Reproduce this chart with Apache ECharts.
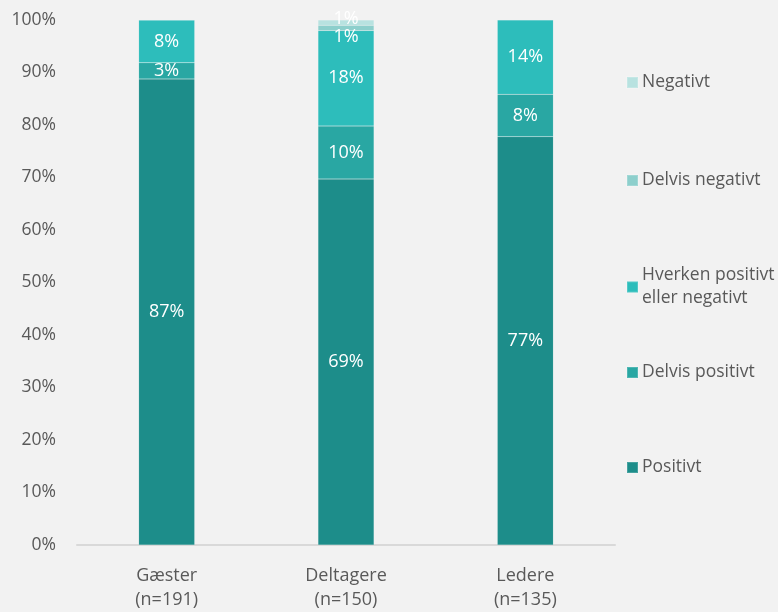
<!DOCTYPE html>
<html>
<head>
<meta charset="utf-8">
<script src="https://cdn.jsdelivr.net/npm/echarts@6/dist/echarts.min.js"></script>
<style>
  html, body { margin: 0; padding: 0; background: #f2f2f2; }
  #chart { width: 778px; height: 612px; }
</style>
</head>
<body>
<div id="chart"></div>
<script>
const categories = ["Gæster\n(n=191)", "Deltagere\n(n=150)", "Ledere\n(n=135)"];
const positivt = [87, 69, 77];
const delvisPositivt = [3, 10, 8];
const hverken = [8, 18, 14];
const delvisNegativt = [0, 1, 0];
const negativt = [0, 1, 0];
const yTicks = [0, 10, 20, 30, 40, 50, 60, 70, 80, 90, 100];

const seriesDefs = [
  { name: "Positivt", data: positivt, color: "#1d8d8a" },
  { name: "Delvis positivt", data: delvisPositivt, color: "#29a7a3" },
  { name: "Hverken positivt eller negativt", data: hverken, color: "#2dbdbb" },
  { name: "Delvis negativt", data: delvisNegativt, color: "#8dcfcc" },
  { name: "Negativt", data: negativt, color: "#b8e2e0" }
];

// 100% stacked: normalise each column
const totals = categories.map((c, i) =>
  seriesDefs.reduce((s, d) => s + d.data[i], 0)
);

const labelOffsets = {
  "Delvis negativt": [0, 9],
  "Negativt": [0, -4]
};

let mychart = echarts.init(document.getElementById("chart"));

const legendTops = {
  "Negativt": 66,
  "Delvis negativt": 164,
  "Hverken positivt eller negativt": 259,
  "Delvis positivt": 356,
  "Positivt": 451
};

const option = {
  backgroundColor: "#f2f2f2",
  textStyle: { fontFamily: "'Open Sans', sans-serif" },
  grid: {
    left: 77,
    right: 163,
    top: 20,
    bottom: 65
  },
  legend: Object.keys(legendTops).map(name => ({
    left: 621,
    top: legendTops[name],
    orient: "vertical",
    itemWidth: 11,
    itemHeight: 11,
    itemGap: 0,
    icon: "rect",
    data: [name],
    formatter: n => n === "Hverken positivt eller negativt" ? "Hverken positivt\neller negativt" : n,
    textStyle: {
      color: "#595959",
      fontSize: 17.5,
      lineHeight: 23,
      padding: [0, 0, 0, -1]
    }
  })),
  xAxis: {
    type: "category",
    data: categories,
    axisTick: { show: false },
    axisLine: { lineStyle: { color: "#d9d9d9", width: 2 } },
    axisLabel: {
      color: "#595959",
      fontSize: 18,
      lineHeight: 24,
      margin: 19,
      interval: 0
    }
  },
  yAxis: {
    type: "value",
    min: 0,
    max: 100,
    interval: 10,
    splitLine: { show: false },
    axisLine: { show: false },
    axisTick: { show: false },
    axisLabel: {
      color: "#595959",
      fontSize: 17.5,
      margin: 21,
      formatter: v => (yTicks.includes(v) ? v + "%" : "")
    }
  },
  series: seriesDefs.map(d => ({
    name: d.name,
    type: "bar",
    stack: "total",
    barWidth: 56,
    itemStyle: {
      color: d.color,
      borderColor: "rgba(255,255,255,0.18)",
      borderWidth: 0.5
    },
    label: {
      show: true,
      position: "inside",
      color: "#ffffff",
      fontSize: 18,
      offset: labelOffsets[d.name] || [0, 0],
      formatter: p => (d.data[p.dataIndex] > 0 ? d.data[p.dataIndex] + "%" : "")
    },
    data: d.data.map((v, i) => (v / totals[i]) * 100)
  }))
};
mychart.setOption(option);
</script>
</body>
</html>
